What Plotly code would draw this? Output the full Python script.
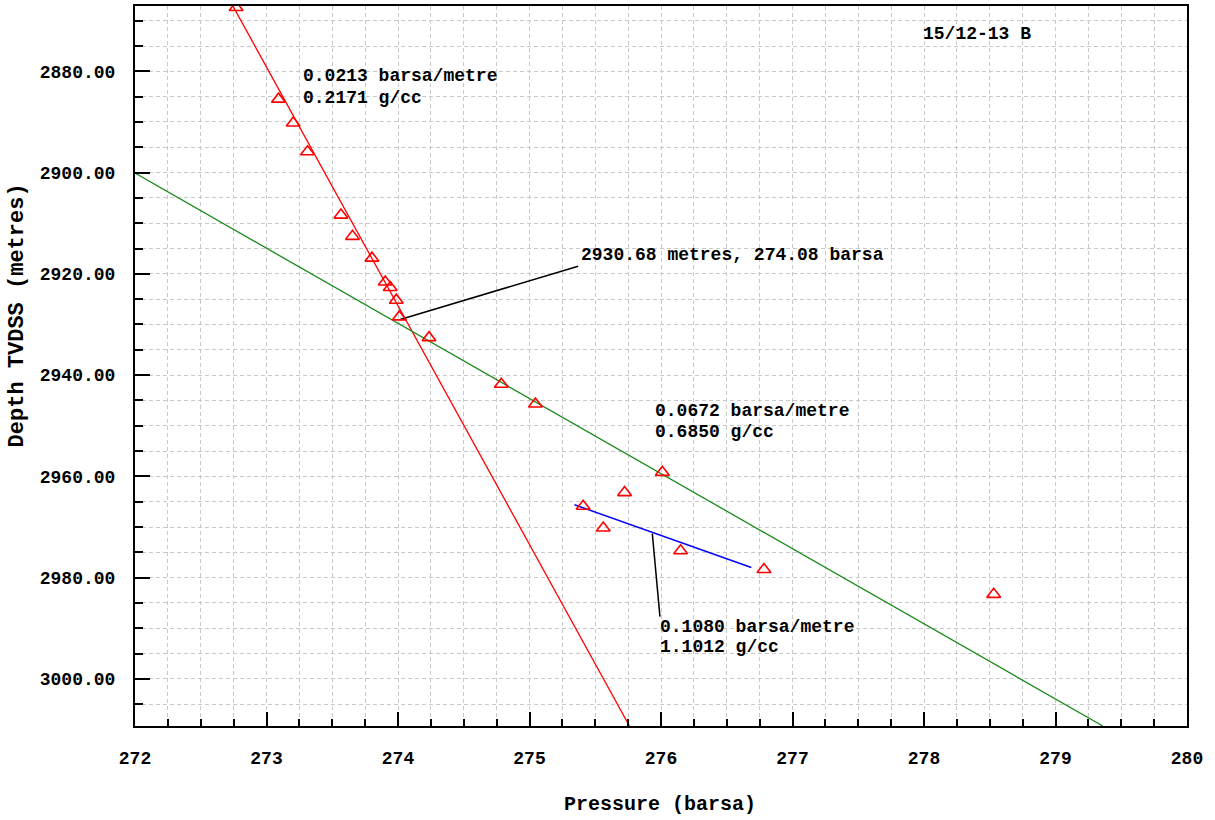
import plotly.graph_objects as go

# ---- data ----
pressure_pts = [272.769, 273.091, 273.203, 273.312, 273.566, 273.654, 273.802,
                273.903, 273.941, 273.987, 274.010, 274.236, 274.786, 275.045,
                276.010, 275.723, 275.408, 275.561, 276.149, 276.783, 278.530]
depth_pts = [2867.4, 2885.5, 2890.2, 2895.9, 2908.4, 2912.6, 2916.9,
             2921.6, 2922.7, 2925.2, 2928.5, 2932.6, 2941.8, 2945.7,
             2959.2, 2963.2, 2965.9, 2970.2, 2974.7, 2978.4, 2983.3]

# gradient lines: (pressure, depth) endpoints
red_line_p = [272.70, 275.76]
red_line_d = [2865.0, 3009.3]
green_line_p = [272.0, 279.36]
green_line_d = [2900.1, 3009.3]
blue_line_p = [275.342, 276.687]
blue_line_d = [2965.6, 2978.0]

# leader lines
leader1_p = [274.017, 275.370]
leader1_d = [2929.0, 2918.5]
leader2_p = [275.934, 275.992]
leader2_d = [2971.3, 2987.7]

x_range = [272, 280]
y_range = [3009.3, 2867.1]

labels = [
    # text, pressure, depth
    ("0.0213 barsa/metre", 273.264, 2881.0),
    ("0.2171 g/cc", 273.264, 2885.3),
    ("0.0672 barsa/metre", 275.937, 2947.1),
    ("0.6850 g/cc", 275.937, 2951.3),
    ("2930.68 metres, 274.08 barsa", 275.38, 2916.3),
    ("0.1080 barsa/metre", 275.974, 2989.8),
    ("1.1012 g/cc", 275.974, 2993.7),
    ("15/12-13 B", 277.976, 2872.6),
]

FONT = "Liberation Mono"

fig = go.Figure()
fig.add_trace(go.Scatter(x=red_line_p, y=red_line_d, mode="lines",
                         line=dict(color="#ff0000", width=1.3), hoverinfo="skip"))
fig.add_trace(go.Scatter(x=green_line_p, y=green_line_d, mode="lines",
                         line=dict(color="#1a8a1a", width=1.3), hoverinfo="skip"))
fig.add_trace(go.Scatter(x=blue_line_p, y=blue_line_d, mode="lines",
                         line=dict(color="#0000ff", width=1.5), hoverinfo="skip"))
fig.add_trace(go.Scatter(x=leader1_p, y=leader1_d, mode="lines",
                         line=dict(color="black", width=1.5), hoverinfo="skip"))
fig.add_trace(go.Scatter(x=leader2_p, y=leader2_d, mode="lines",
                         line=dict(color="black", width=1.5), hoverinfo="skip"))
fig.add_trace(go.Scatter(x=pressure_pts, y=depth_pts, mode="markers",
                         marker=dict(symbol="triangle-up-open", size=12, color="#ff0000",
                                     line=dict(width=1.6, color="#ff0000"))))

for text, p, d in labels:
    fig.add_annotation(x=p, y=d, xref="x", yref="y", text=text, showarrow=False,
                       xanchor="left", yanchor="middle",
                       font=dict(family=FONT, size=18, color="black", weight="bold"))

fig.add_annotation(x=0.4986, y=-0.109, xref="paper", yref="paper", text="Pressure (barsa)",
                   showarrow=False, xanchor="center", yanchor="middle",
                   font=dict(family=FONT, size=20, color="black", weight="bold"))
fig.add_annotation(x=-0.112, y=0.5705, xref="paper", yref="paper", text="Depth TVDSS (metres)",
                   showarrow=False, xanchor="center", yanchor="middle", textangle=-90,
                   font=dict(family=FONT, size=22, color="black", weight="bold"))

grid = dict(showgrid=True, gridcolor="#c8c8c8", griddash="4px,3px", gridwidth=1)

fig.update_layout(
    template="none",
    width=1215, height=820,
    margin=dict(l=135, r=28, t=6, b=94, autoexpand=False),
    paper_bgcolor="white", plot_bgcolor="white",
    showlegend=False,
    xaxis=dict(range=x_range, tick0=272, dtick=1, ticks="inside", ticklen=14, tickwidth=1.5,
               tickcolor="black", showline=True, linecolor="black", linewidth=2, mirror=True,
               zeroline=False, ticklabelstandoff=14, automargin=False,
               tickfont=dict(family=FONT, size=18, color="black", weight="bold"),
               minor=dict(dtick=0.25, ticks="inside", ticklen=7, tickcolor="black", tickwidth=1.5,
                          **grid),
               **grid),
    yaxis=dict(range=y_range, tick0=2880, dtick=20, ticks="inside", ticklen=15, tickwidth=1.5,
               tickcolor="black", showline=True, linecolor="black", linewidth=2, mirror=True,
               zeroline=False, tickformat=".2f", ticklabelstandoff=14, automargin=False,
               tickfont=dict(family=FONT, size=18, color="black", weight="bold"),
               minor=dict(dtick=5, ticks="inside", ticklen=8, tickcolor="black", tickwidth=1.5,
                          **grid),
               **grid),
)

fig.write_html("out.html", config={"displayModeBar": False},
               post_script="document.body.style.margin='0';document.body.style.overflow='hidden';")
